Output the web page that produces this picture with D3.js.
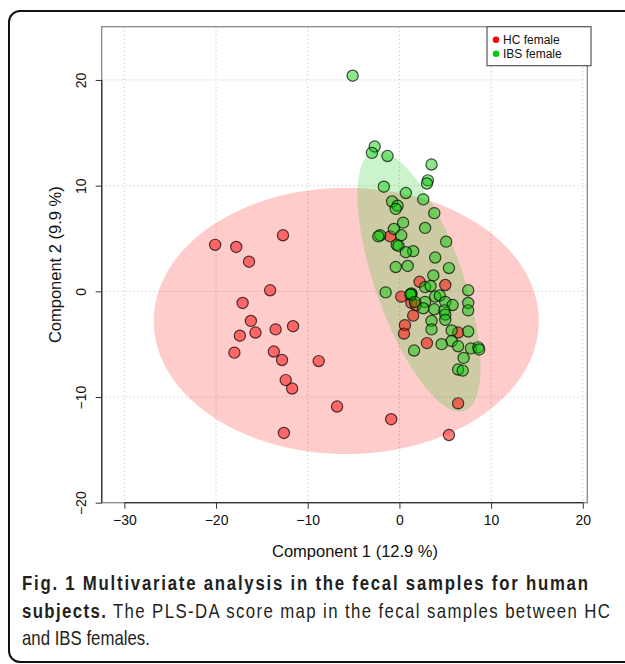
<!DOCTYPE html>
<html>
<head>
<meta charset="utf-8">
<script src="https://cdn.jsdelivr.net/npm/d3@7"></script>
<style>
  body { margin:0; background:#fff; }
  .canvas { width:625px; height:664px; }
  text { font-family: "Liberation Sans", Arial, sans-serif; }
</style>
</head>
<body>
<div class="canvas"></div>
<script>
// PLS-DA scores, HC female vs IBS female
var hcX = [-12.7,-20.1,-17.8,-16.4,-14.1,-17.1,-16.2,-15.7,-13.5,-11.6,-17.4,-18.0,-13.7,-12.8,-8.8,-12.4,-11.7,-6.8,-12.6,
           6.4,-0.9,5.4,
           2.2,5.0,0.2,1.3,1.8,1.5,0.6,0.5,3.0,6.4,-1.0];
var hcY = [5.3,4.4,4.2,2.8,0.1,-1.1,-2.8,-3.9,-3.6,-3.3,-4.2,-5.8,-5.7,-6.5,-6.6,-8.4,-9.2,-10.9,-13.4,
           -10.6,-12.1,-13.6,
           0.9,0.6,-0.5,-1.1,-1.3,-2.3,-3.2,-4.0,-4.9,-3.9,5.2];

var ibsX = [-5.1,
            -2.7,-3.0,-1.3,3.5,3.1,3.0,-1.7,0.7,2.6,-0.8,-0.2,-0.4,3.8,0.4,-0.6,2.8,0.2,-2.1,-2.3,-0.3,-0.1,5.1,1.5,0.7,3.9,-0.4,0.9,5.4,3.7,
            2.8,3.4,-1.5,1.3,1.3,1.2,3.9,4.4,7.5,2.8,5.0,5.8,7.5,7.5,2.6,3.8,4.9,5.0,5.0,3.5,3.5,5.7,7.5,5.7,4.6,6.4,7.8,8.6,8.7,1.6,7.0,6.4,6.9,1.7];
var ibsY = [20.4,
            13.7,13.1,12.8,12.0,10.5,10.2,9.9,9.3,8.7,8.5,8.1,7.8,7.4,6.5,5.9,6.0,5.3,5.3,5.2,4.4,4.3,4.7,3.8,3.7,3.2,2.3,2.4,2.2,1.5,
            0.4,0.5,-0.1,-0.3,-0.2,-0.3,-0.5,-0.4,0.1,-1.0,-1.0,-1.3,-1.1,-1.8,-1.6,-1.7,-1.8,-2.2,-2.7,-2.8,-3.6,-3.7,-3.8,-4.7,-5.0,-5.2,-5.4,-5.3,-5.5,-5.6,-6.3,-7.4,-7.5,-1.0];

// confidence ellipses: centre x, centre y, semi-major, semi-minor, angle (deg)
var hcEllipse = [-5.8, -2.8, 21, 12.6, 0];
var ibsEllipse = [2.13, 0.97, 13.24, 4.7, -67.2];

var xTicks = [-30,-20,-10,0,10,20];
var yTicks = [-20,-10,0,10,20];
var groups = ['HC female','IBS female'];

var W = 625, H = 664;
var box = {l:101.7, r:587.3, t:26.7, b:502.7};

var svg = d3.select('.canvas')
    .append('svg')
    .attr('width',W)
    .attr('height',H);

var x = d3.scaleLinear().domain([-32.47,20.49]).range([box.l,box.r]);
var y = d3.scaleLinear().domain([-20,25.04]).range([box.b,box.t]);

//outer frame of the figure
svg.append('rect')
    .attr('x',9).attr('y',11)
    .attr('width',700).attr('height',651)
    .attr('rx',11)
    .style('fill','none')
    .style('stroke','#111')
    .style('stroke-width',2);

//grid
var grid = svg.append('g');
grid.selectAll('.gx').data(xTicks).enter().append('line')
    .attr('x1',function(d){ return x(d) }).attr('x2',function(d){ return x(d) })
    .attr('y1',box.t).attr('y2',box.b)
    .style('stroke','#cfcfcf').style('stroke-dasharray','1.5,2.5');
grid.selectAll('.gy').data(yTicks).enter().append('line')
    .attr('y1',function(d){ return y(d) }).attr('y2',function(d){ return y(d) })
    .attr('x1',box.l).attr('x2',box.r)
    .style('stroke','#cfcfcf').style('stroke-dasharray','1.5,2.5');

//ellipses
function ellipsePts(e){
    var a = e[4]*Math.PI/180;
    return d3.range(0,361,3).map(function(t){
        var r = t*Math.PI/180;
        var u = e[2]*Math.cos(r), v = e[3]*Math.sin(r);
        return [e[0] + u*Math.cos(a) - v*Math.sin(a), e[1] + u*Math.sin(a) + v*Math.cos(a)];
    });
}
var ell = d3.line().x(function(d){ return x(d[0]) }).y(function(d){ return y(d[1]) });
svg.append('path').attr('d',ell(ellipsePts(hcEllipse))+'Z')
    .style('fill','rgba(255,0,0,0.2)').style('stroke','none');
svg.append('path').attr('d',ell(ellipsePts(ibsEllipse))+'Z')
    .style('fill','rgba(0,200,0,0.2)').style('stroke','none');

//points
var hc = hcX.map(function(v,i){ return {x:v, y:hcY[i]} });
var ibs = ibsX.map(function(v,i){ return {x:v, y:ibsY[i]} });

svg.append('g').selectAll('circle')
    .data(hc).enter().append('circle')
    .attr('cx',function(d){ return x(d.x) })
    .attr('cy',function(d){ return y(d.y) })
    .attr('r',5.6)
    .style('fill','rgba(255,0,0,0.5)')
    .style('stroke','rgba(0,0,0,0.7)')
    .style('stroke-width',1.2);

svg.append('g').selectAll('circle')
    .data(ibs).enter().append('circle')
    .attr('cx',function(d){ return x(d.x) })
    .attr('cy',function(d){ return y(d.y) })
    .attr('r',5.6)
    .style('fill','rgba(0,200,0,0.45)')
    .style('stroke','rgba(0,0,0,0.7)')
    .style('stroke-width',1.2);

//box
svg.append('rect')
    .attr('x',box.l).attr('y',box.t)
    .attr('width',box.r-box.l).attr('height',box.b-box.t)
    .style('fill','none').style('stroke','#8a8a8a').style('stroke-width',1.3);

//axes
var xAxis = d3.axisBottom(x).tickValues(xTicks).tickSize(6).tickPadding(6);
var gx = svg.append('g').attr('transform','translate(0,'+box.b+')').call(xAxis);
gx.select('.domain').attr('d','M'+x(-30)+',0H'+x(20)).style('stroke','#333').style('stroke-width',1.3);
gx.selectAll('.tick line').style('stroke','#333');
gx.selectAll('text').style('font-size','14px').style('fill','#111')
    .style('font-family','"Liberation Sans", Arial, sans-serif');

var yAxis = d3.axisLeft(y).tickValues(yTicks).tickSize(6).tickPadding(6);
var gy = svg.append('g').attr('transform','translate('+box.l+',0)').call(yAxis);
gy.select('.domain').attr('d','M0,'+y(20)+'V'+y(-20)).style('stroke','#333').style('stroke-width',1.3);
gy.selectAll('.tick line').style('stroke','#333');
gy.selectAll('text')
    .style('font-size','14px').style('fill','#111')
    .style('font-family','"Liberation Sans", Arial, sans-serif')
    .attr('text-anchor','middle')
    .attr('dy',0).attr('x',0)
    .attr('transform','translate(-16,0) rotate(-90)');

//axis titles
svg.append('text')
    .attr('x',355).attr('y',557)
    .attr('text-anchor','middle')
    .style('font-size','16.5px').style('fill','#111')
    .text('Component 1 (12.9 %)');
svg.append('text')
    .attr('transform','translate(61,'+((box.t+box.b)/2)+') rotate(-90)')
    .attr('text-anchor','middle')
    .style('font-size','16.5px').style('fill','#111')
    .text('Component 2 (9.9 %)');

//legend
var lg = svg.append('g').attr('transform','translate(487,'+box.t+')');
lg.append('rect').attr('width',104).attr('height',39)
    .style('fill','#fff').style('stroke','#555').style('stroke-width',1.2);
var lgColors = ['#ff0000','#00cc00'];
lg.selectAll('circle').data(groups).enter().append('circle')
    .attr('cx',9).attr('cy',function(d,i){ return 13+i*14 })
    .attr('r',3.2)
    .style('fill',function(d,i){ return lgColors[i] });
lg.selectAll('text').data(groups).enter().append('text')
    .attr('x',16).attr('y',function(d,i){ return 17+i*14 })
    .style('font-size','12px').style('fill','#111')
    .text(function(d){ return d });

//caption (condensed look: squeeze horizontally)
var sq = 0.82;
var cap = svg.append('g')
    .attr('transform','translate(22,0) scale('+sq+',1)')
    .style('font-family','"Open Sans", "Noto Sans", sans-serif').style('fill','#231f20');
cap.append('text').attr('x',0).attr('y',590)
    .attr('textLength',566/sq).attr('lengthAdjust','spacing')
    .style('font-size','20.5px').style('font-weight','bold')
    .text('Fig. 1 Multivariate analysis in the fecal samples for human');
var l2 = cap.append('text').attr('x',0).attr('y',618)
    .attr('textLength',588/sq).attr('lengthAdjust','spacing')
    .style('font-size','20.5px');
l2.append('tspan').style('font-weight','bold').text('subjects.');
l2.append('tspan').text(' The PLS-DA score map in the fecal samples between HC');
cap.append('text').attr('x',0).attr('y',645)
    .style('font-size','20.5px')
    .text('and IBS females.');
</script>
</body>
</html>
